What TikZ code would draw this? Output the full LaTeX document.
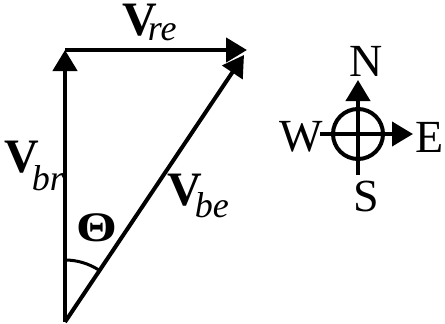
\documentclass[tikz,border=0pt]{standalone}
\usepackage{fontspec}
\setmainfont{Liberation Serif}
\usetikzlibrary{arrows.meta,positioning}

% bold V with an italic subscript: #2 = kern, #3 = drop
\newcommand{\vecV}[3]{{\fontsize{48}{48}\selectfont\bfseries V}\kern#2\raisebox{-#3}{\fontsize{36}{36}\selectfont\itshape #1}}

\begin{document}
\begin{tikzpicture}[
    x=1pt, y=-1pt,
    vec/.style={line width=4.5pt, -{Triangle[length=21pt, width=24pt]}},
    vlab/.style={inner sep=0pt, anchor=base west},
    dirlab/.style={inner sep=0pt, font=\fontsize{46}{46}\selectfont}
]
\useasboundingbox (0,0) rectangle (445,324);

% Triangle of velocities
\coordinate (O)  at (65,322);
\coordinate (T)  at (65,50);
\coordinate (R)  at (247,50);
\coordinate (Rd) at (244,55);

\draw[vec] (O) -- (T);
\draw[vec] (T) -- (R);
\draw[vec, line width=4pt] (O) -- (Rd);

% angle between the two vectors
\draw[line width=3pt] (O) ++(-90:62) arc[start angle=-90, end angle=-56.4, radius=62];

\node[vlab] (vre) at (122,35)  {\vecV{re}{-9pt}{5pt}};
\node[vlab] (vbr) at (4,172)   {\vecV{br}{-7pt}{18pt}};
\node[vlab] (vbe) at (167,205) {\vecV{be}{-7pt}{12pt}};
\node[inner sep=0pt, font=\fontsize{42}{42}\selectfont\bfseries] (theta) at (97,228) {\scalebox{1.25}[1]{Θ}};

% Compass
\node[circle, draw, line width=4pt, minimum size=50pt, inner sep=0pt] (C) at (358,134) {};
\coordinate (Cs) at (358,175);
\coordinate (Cn) at (358,80);
\coordinate (Cw) at (320,134);
\coordinate (Ce) at (413,134);
\draw[vec, line width=4pt] (Cs) -- (Cn);
\draw[vec, line width=4pt] (Cw) -- (Ce);

\node[dirlab] (N) at (366,61)  {N};
\node[dirlab] (W) at (301,137) {W};
\node[dirlab] (E) at (430,137) {E};
\node[dirlab] (S) at (366,196) {S};
\end{tikzpicture}
\end{document}
